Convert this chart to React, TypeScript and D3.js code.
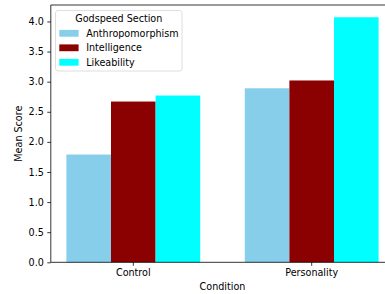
import * as d3 from "d3";
import { useRef, useEffect } from "react";

const conditions = ["Control", "Personality"];
const sections = ["Anthropomorphism", "Intelligence", "Likeability"];
const anthropomorphism = [1.79, 2.89];
const intelligence = [2.67, 3.02];
const likeability = [2.77, 4.07];
const yTicks = [0, 0.5, 1, 1.5, 2, 2.5, 3, 3.5, 4];
const colors = ["#87ceeb", "#8b0000", "#00ffff"];

const W = 385;
const H = 294;
const FONT = "DejaVu Sans, sans-serif";

const App = () => {
  const ref = useRef<SVGSVGElement>(null);

  useEffect(() => {
    const svg = d3.select(ref.current);
    svg.selectAll("*").remove();

    // plot area runs past the right edge of the picture (figure is cropped)
    const left = 50.8, right = 394.2, top = 5, bottom = 262.3;
    const series = [anthropomorphism, intelligence, likeability];

    // outer band per condition, inner band per section
    const x0 = d3.scaleBand<string>()
      .domain(conditions)
      .range([left, right])
      .paddingInner(0.25)
      .paddingOuter(0.0875);
    const x1 = d3.scaleBand<string>()
      .domain(sections)
      .range([0, x0.bandwidth()]);
    const y = d3.scaleLinear().domain([0, 4.2735]).range([bottom, top]);

    sections.forEach((s, si) => {
      svg.append("g")
        .selectAll("rect")
        .data(series[si])
        .join("rect")
        .attr("x", (d, i) => x0(conditions[i])! + x1(s)!)
        .attr("y", d => y(d))
        .attr("width", x1.bandwidth())
        .attr("height", d => y(0) - y(d))
        .attr("fill", colors[si]);
    });

    // y axis
    const yAxis = svg.append("g")
      .attr("transform", `translate(${left},0)`)
      .call(d3.axisLeft(y).tickValues(yTicks).tickFormat(d3.format(".1f")).tickSize(3.5).tickPadding(3.5));
    yAxis.select(".domain").remove();
    yAxis.selectAll("line").attr("stroke", "#000").attr("stroke-width", 0.8);
    yAxis.selectAll("text").attr("font-family", FONT).attr("font-size", 9.6).attr("fill", "#000");

    // x axis
    const xAxis = svg.append("g")
      .attr("transform", `translate(0,${bottom})`)
      .call(d3.axisBottom(x0).tickSize(3.5).tickPadding(3.5));
    xAxis.select(".domain").remove();
    xAxis.selectAll("line").attr("stroke", "#000").attr("stroke-width", 0.8);
    xAxis.selectAll("text").attr("font-family", FONT).attr("font-size", 9.6).attr("fill", "#000");

    // spines (right one falls outside the picture)
    const sp = svg.append("g").attr("stroke", "#000").attr("stroke-width", 0.8).attr("fill", "none");
    sp.append("line").attr("x1", left).attr("x2", left).attr("y1", top).attr("y2", bottom);
    sp.append("line").attr("x1", left).attr("x2", right).attr("y1", bottom).attr("y2", bottom);
    sp.append("line").attr("x1", left).attr("x2", right).attr("y1", top).attr("y2", top);

    // axis labels
    svg.append("text")
      .attr("x", (left + right) / 2)
      .attr("y", 289.5)
      .attr("text-anchor", "middle")
      .attr("font-family", FONT)
      .attr("font-size", 9.6)
      .text("Condition");
    svg.append("text")
      .attr("transform", `translate(21.6,${(top + bottom) / 2}) rotate(-90)`)
      .attr("text-anchor", "middle")
      .attr("font-family", FONT)
      .attr("font-size", 9.6)
      .text("Mean Score");

    // legend
    const lg = svg.append("g").attr("transform", "translate(55.5,10.5)");
    lg.append("rect")
      .attr("width", 126.5)
      .attr("height", 60.5)
      .attr("rx", 2.5)
      .attr("fill", "#fff")
      .attr("fill-opacity", 0.8)
      .attr("stroke", "#d6d6d6")
      .attr("stroke-width", 0.8);
    lg.append("text")
      .attr("x", 63.3)
      .attr("y", 11.3)
      .attr("text-anchor", "middle")
      .attr("font-family", FONT)
      .attr("font-size", 9.6)
      .text("Godspeed Section");
    sections.forEach((s, i) => {
      const cy = 22.8 + i * 14.5;
      lg.append("rect")
        .attr("x", 3.8)
        .attr("y", cy - 3.4)
        .attr("width", 19.3)
        .attr("height", 6.8)
        .attr("fill", colors[i]);
      lg.append("text")
        .attr("x", 30.7)
        .attr("y", cy + 3.4)
        .attr("font-family", FONT)
        .attr("font-size", 9.6)
        .text(s);
    });
  }, []);

  return (
    <svg
      ref={ref}
      width={W}
      height={H}
      style={{ position: "absolute", left: 0, top: 0, background: "#fff" }}
    />
  );
};

export default App;
